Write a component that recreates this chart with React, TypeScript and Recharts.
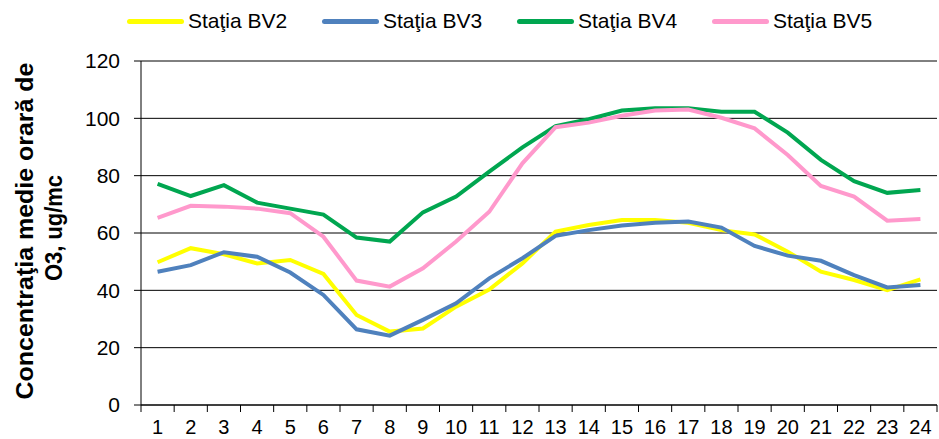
import React from 'react';
import { LineChart, Line, XAxis, YAxis, CartesianGrid } from 'recharts';

const hours = ['1', '2', '3', '4', '5', '6', '7', '8', '9', '10', '11', '12', '13', '14', '15', '16', '17', '18', '19', '20', '21', '22', '23', '24'];

const bv2 = [49.8, 54.7, 52.6, 49.4, 50.6, 45.7, 31.4, 25.6, 26.7, 34.3, 40.3, 49.4, 60.5, 62.8, 64.5, 64.5, 63.6, 61, 59.5, 53.5, 46.5, 43.6, 40.1, 43.8];
const bv3 = [46.5, 48.8, 53.3, 51.7, 46.2, 38.4, 26.4, 24.2, 29.7, 35.5, 44.2, 51.2, 59, 61, 62.6, 63.6, 64, 61.9, 55.5, 52.1, 50.3, 45.3, 41, 41.9];
const bv4 = [77.1, 72.9, 76.7, 70.6, 68.5, 66.4, 58.4, 57, 67.2, 72.7, 81.4, 89.9, 97.3, 99.7, 102.7, 103.5, 103.5, 102.3, 102.3, 95, 85.5, 78.1, 74, 75];
const bv5 = [65.3, 69.5, 69.2, 68.5, 66.9, 58.7, 43.4, 41.3, 47.7, 57, 67.4, 84.3, 96.9, 98.5, 100.9, 102.7, 103.1, 100.2, 96.5, 87.2, 76.4, 72.7, 64.3, 64.9];

const yTicks = [0, 20, 40, 60, 80, 100, 120];

const series = [
  { key: 'bv2', name: 'Staţia BV2', color: '#ffff00', values: bv2 },
  { key: 'bv3', name: 'Staţia BV3', color: '#4f81bd', values: bv3 },
  { key: 'bv4', name: 'Staţia BV4', color: '#00a650', values: bv4 },
  { key: 'bv5', name: 'Staţia BV5', color: '#ff99cc', values: bv5 },
];

const data = hours.map((h, i) => {
  const row: Record<string, string | number> = { hour: h };
  series.forEach((s) => {
    row[s.key] = s.values[i];
  });
  return row;
});

const FONT = '"Liberation Sans", Arial, sans-serif';
const PLOT_LEFT = 141;
const PLOT_RIGHT = 937;
const BAND = (PLOT_RIGHT - PLOT_LEFT) / hours.length;

// category ticks sit between the hours, labels in the middle
const XTick = (props: any) => {
  const { x, payload, index } = props;
  const left = x - BAND / 2;
  return (
    <g>
      <line x1={left} y1={405} x2={left} y2={412} stroke="#000" strokeWidth={1} />
      {index === hours.length - 1 && (
        <line x1={left + BAND} y1={405} x2={left + BAND} y2={412} stroke="#000" strokeWidth={1} />
      )}
      <text x={x} y={434} textAnchor="middle" fontSize={20} fontFamily={FONT} fill="#000">
        {payload.value}
      </text>
    </g>
  );
};

const YLabel = () => (
  <g>
    <text
      transform="translate(25,231) rotate(-90)"
      textAnchor="middle"
      dominantBaseline="central"
      fontSize={23}
      fontWeight="bold"
      fontFamily={FONT}
      fill="#000"
      textLength={337}
      lengthAdjust="spacingAndGlyphs"
    >
      Concentraţia medie orară de
    </text>
    <text
      transform="translate(54,228) rotate(-90)"
      textAnchor="middle"
      dominantBaseline="central"
      fontSize={23}
      fontWeight="bold"
      fontFamily={FONT}
      fill="#000"
      textLength={106}
      lengthAdjust="spacingAndGlyphs"
    >
      O3, ug/mc
    </text>
  </g>
);

export default function App() {
  return (
    <div style={{ position: 'absolute', left: 0, top: 0, width: 939, height: 439, background: '#fff' }}>
      <div
        style={{
          position: 'absolute',
          top: 8,
          left: 127,
          display: 'flex',
          fontFamily: FONT,
          fontSize: 21,
          lineHeight: '26px',
          color: '#000',
        }}
      >
        {series.map((s) => (
          <div key={s.key} style={{ display: 'flex', alignItems: 'center', width: 195 }}>
            <span style={{ display: 'inline-block', width: 57, height: 5, borderRadius: 3, background: s.color, marginRight: 4 }} />
            <span>{s.name}</span>
          </div>
        ))}
      </div>
      <LineChart width={939} height={439} data={data} margin={{ top: 61, right: 2, left: 0, bottom: 0 }}>
        <CartesianGrid vertical={false} stroke="#000" strokeWidth={1} />
        <XAxis
          dataKey="hour"
          height={34}
          padding={{ left: BAND / 2, right: BAND / 2 }}
          axisLine={{ stroke: '#000', strokeWidth: 1 }}
          tickLine={false}
          interval={0}
          tick={<XTick />}
        />
        <YAxis
          width={141}
          domain={[0, 120]}
          ticks={yTicks}
          axisLine={{ stroke: '#000', strokeWidth: 1 }}
          tickLine={{ stroke: '#000' }}
          tickSize={7}
          tickMargin={14}
          tick={{ fontSize: 21, fontFamily: FONT, fill: '#000' }}
          label={<YLabel />}
        />
        {series.map((s) => (
          <Line
            key={s.key}
            dataKey={s.key}
            name={s.name}
            stroke={s.color}
            strokeWidth={4}
            dot={false}
            type="linear"
            isAnimationActive={false}
          />
        ))}
      </LineChart>
    </div>
  );
}
